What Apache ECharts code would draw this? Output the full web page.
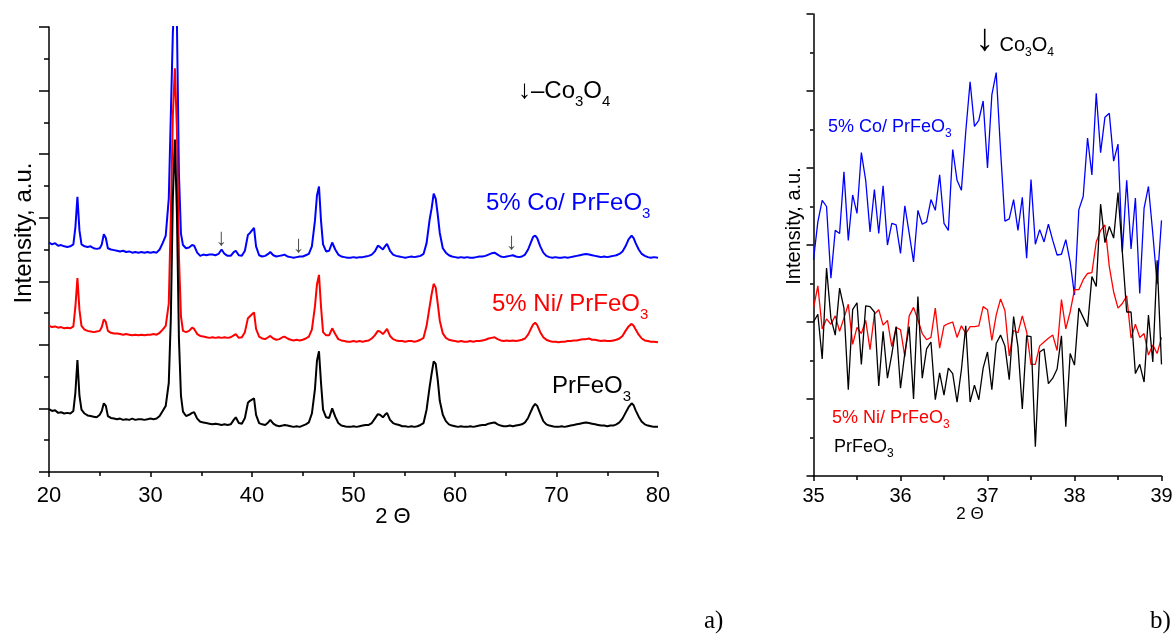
<!DOCTYPE html>
<html>
<head>
<meta charset="utf-8">
<script src="https://cdn.jsdelivr.net/npm/echarts@6/dist/echarts.min.js"></script>
<style>
  html, body { margin: 0; padding: 0; background: #fff; }
  #chart { width: 1174px; height: 634px; }
</style>
</head>
<body>
<div id="chart"></div>
<script>
// panel a) : full XRD patterns, 2 theta 20..80
const twoThetaA = [
  20.0, 20.3, 20.6, 20.9, 21.2, 21.5, 21.8, 22.1, 22.4, 22.6,
  22.8, 23.0, 23.2, 23.5, 23.8, 24.1, 24.4, 24.7, 25.0, 25.2,
  25.4, 25.6, 25.8, 26.1, 26.4, 26.7, 27.0, 27.3, 27.6, 27.9,
  28.2, 28.5, 28.8, 29.1, 29.4, 29.7, 30.0, 30.3, 30.6, 30.9,
  31.2, 31.5, 31.8, 32.0, 32.2, 32.4, 32.6, 32.8, 33.0, 33.2,
  33.5, 33.8, 34.1, 34.3, 34.6, 34.9, 35.2, 35.5, 35.8, 36.1,
  36.4, 36.7, 37.0, 37.3, 37.6, 37.9, 38.2, 38.4, 38.7, 39.0,
  39.3, 39.6, 39.8, 40.0, 40.2, 40.4, 40.7, 41.0, 41.3, 41.6,
  41.8, 42.1, 42.4, 42.7, 43.0, 43.2, 43.5, 43.8, 44.1, 44.4,
  44.7, 45.0, 45.3, 45.6, 45.9, 46.2, 46.4, 46.6, 46.8, 47.0,
  47.3, 47.6, 47.9, 48.2, 48.5, 48.8, 49.1, 49.4, 49.7, 50.0,
  50.3, 50.6, 50.9, 51.2, 51.5, 51.8, 52.1, 52.4, 52.6, 52.9,
  53.1, 53.3, 53.6, 53.9, 54.2, 54.5, 54.8, 55.1, 55.4, 55.7,
  56.0, 56.3, 56.6, 56.9, 57.2, 57.5, 57.7, 57.9, 58.1, 58.3,
  58.5, 58.8, 59.1, 59.4, 59.7, 60.0, 60.3, 60.6, 60.9, 61.2,
  61.5, 61.8, 62.1, 62.4, 62.7, 63.0, 63.3, 63.6, 63.9, 64.2,
  64.5, 64.8, 65.1, 65.4, 65.7, 66.0, 66.3, 66.6, 66.9, 67.2,
  67.5, 67.7, 67.9, 68.1, 68.4, 68.7, 69.0, 69.3, 69.6, 69.9,
  70.2, 70.5, 70.8, 71.1, 71.4, 71.7, 72.0, 72.3, 72.6, 72.9,
  73.2, 73.5, 73.8, 74.1, 74.4, 74.7, 75.0, 75.3, 75.6, 75.9,
  76.2, 76.5, 76.8, 77.1, 77.4, 77.6, 77.8, 78.1, 78.4, 78.7,
  79.0, 79.3, 79.6, 80.0
];
const coA = [
  3.61, 3.58, 3.60, 3.56, 3.57, 3.55, 3.54, 3.55, 3.58, 3.85,
  4.33, 3.80, 3.58, 3.55, 3.54, 3.55, 3.52, 3.51, 3.52, 3.58,
  3.74, 3.68, 3.52, 3.50, 3.49, 3.48, 3.47, 3.48, 3.46, 3.47,
  3.45, 3.46, 3.45, 3.46, 3.45, 3.46, 3.45, 3.46, 3.45, 3.50,
  3.60, 3.72, 4.30, 5.60, 6.90, 7.60, 7.10, 4.70, 3.75, 3.57,
  3.52, 3.53, 3.57, 3.56, 3.45, 3.40, 3.42, 3.41, 3.42, 3.42,
  3.41, 3.43, 3.50, 3.43, 3.40, 3.40, 3.46, 3.48, 3.41, 3.40,
  3.48, 3.73, 3.76, 3.80, 3.84, 3.55, 3.41, 3.39, 3.40, 3.43,
  3.46, 3.41, 3.39, 3.40, 3.41, 3.42, 3.39, 3.38, 3.37, 3.38,
  3.39, 3.39, 3.41, 3.43, 3.55, 3.95, 4.35, 4.49, 3.95, 3.58,
  3.47, 3.48, 3.61, 3.50, 3.42, 3.39, 3.38, 3.37, 3.37, 3.38,
  3.37, 3.38, 3.38, 3.39, 3.40, 3.42, 3.47, 3.56, 3.54, 3.50,
  3.55, 3.59, 3.48, 3.42, 3.40, 3.39, 3.38, 3.37, 3.38, 3.39,
  3.38, 3.39, 3.40, 3.43, 3.60, 3.97, 4.15, 4.38, 4.30, 4.05,
  3.76, 3.52, 3.45, 3.41, 3.39, 3.38, 3.37, 3.38, 3.37, 3.38,
  3.37, 3.37, 3.38, 3.39, 3.39, 3.40, 3.42, 3.44, 3.45, 3.42,
  3.39, 3.38, 3.39, 3.40, 3.41, 3.39, 3.38, 3.39, 3.42, 3.50,
  3.62, 3.70, 3.72, 3.68, 3.55, 3.45, 3.40, 3.38, 3.37, 3.38,
  3.37, 3.37, 3.38, 3.37, 3.38, 3.39, 3.40, 3.41, 3.42, 3.43,
  3.42, 3.41, 3.40, 3.39, 3.38, 3.39, 3.38, 3.39, 3.40, 3.41,
  3.43, 3.47, 3.55, 3.66, 3.72, 3.68, 3.60, 3.50, 3.43, 3.40,
  3.38, 3.37, 3.38, 3.37
];
const niA = [
  2.30, 2.28, 2.29, 2.27, 2.28, 2.26, 2.27, 2.26, 2.29, 2.60,
  3.05, 2.55, 2.30, 2.24, 2.22, 2.21, 2.20, 2.21, 2.22, 2.28,
  2.40, 2.36, 2.22, 2.19, 2.18, 2.18, 2.17, 2.16, 2.17, 2.16,
  2.15, 2.16, 2.15, 2.16, 2.15, 2.16, 2.16, 2.17, 2.16, 2.19,
  2.24, 2.30, 2.65, 4.00, 5.60, 6.35, 5.40, 3.40, 2.45, 2.22,
  2.20, 2.22, 2.27, 2.25, 2.17, 2.14, 2.13, 2.12, 2.11, 2.12,
  2.11, 2.12, 2.11, 2.12, 2.11, 2.12, 2.15, 2.17, 2.11, 2.12,
  2.20, 2.42, 2.45, 2.48, 2.51, 2.25, 2.13, 2.10, 2.09, 2.12,
  2.14, 2.10, 2.08, 2.09, 2.12, 2.13, 2.10, 2.08, 2.07, 2.08,
  2.07, 2.08, 2.10, 2.13, 2.24, 2.60, 2.95, 3.10, 2.60, 2.20,
  2.15, 2.15, 2.26, 2.17, 2.09, 2.07, 2.06, 2.05, 2.05, 2.06,
  2.05, 2.06, 2.05, 2.06, 2.07, 2.10, 2.15, 2.22, 2.21, 2.17,
  2.21, 2.25, 2.14, 2.09, 2.07, 2.06, 2.06, 2.05, 2.06, 2.06,
  2.05, 2.06, 2.08, 2.11, 2.30, 2.60, 2.80, 2.96, 2.90, 2.65,
  2.38, 2.18, 2.11, 2.08, 2.07, 2.06, 2.05, 2.06, 2.05, 2.05,
  2.06, 2.05, 2.06, 2.06, 2.07, 2.08, 2.10, 2.11, 2.12, 2.09,
  2.07, 2.06, 2.07, 2.06, 2.07, 2.06, 2.07, 2.08, 2.10, 2.16,
  2.26, 2.32, 2.35, 2.31, 2.20, 2.12, 2.08, 2.06, 2.05, 2.05,
  2.04, 2.05, 2.05, 2.06, 2.06, 2.07, 2.07, 2.08, 2.09, 2.09,
  2.10, 2.08, 2.08, 2.07, 2.06, 2.07, 2.06, 2.06, 2.07, 2.08,
  2.10, 2.14, 2.22, 2.29, 2.33, 2.30, 2.24, 2.16, 2.10, 2.07,
  2.06, 2.05, 2.05, 2.04
];
const pureA = [
  0.99, 0.96, 0.97, 0.93, 0.94, 0.92, 0.93, 0.92, 0.96, 1.25,
  1.76, 1.20, 0.98, 0.92, 0.89, 0.88, 0.87, 0.86, 0.90, 0.96,
  1.08, 1.04, 0.88, 0.85, 0.84, 0.83, 0.84, 0.82, 0.83, 0.82,
  0.84, 0.82, 0.83, 0.83, 0.82, 0.83, 0.84, 0.83, 0.84, 0.88,
  0.96, 1.04, 1.40, 2.40, 4.30, 5.23, 4.10, 2.10, 1.20, 0.95,
  0.88, 0.90, 0.93, 0.94, 0.84, 0.79, 0.78, 0.77, 0.76, 0.75,
  0.76, 0.75, 0.74, 0.75, 0.74, 0.75, 0.82, 0.86, 0.77, 0.76,
  0.85, 1.09, 1.12, 1.14, 1.16, 0.90, 0.77, 0.75, 0.74, 0.78,
  0.82, 0.76, 0.73, 0.72, 0.73, 0.74, 0.73, 0.72, 0.71, 0.72,
  0.71, 0.73, 0.75, 0.78, 0.92, 1.30, 1.75, 1.90, 1.40, 0.98,
  0.86, 0.85, 1.00, 0.87, 0.77, 0.73, 0.72, 0.71, 0.71, 0.72,
  0.71, 0.72, 0.73, 0.74, 0.74, 0.77, 0.84, 0.91, 0.90, 0.86,
  0.90, 0.93, 0.82, 0.77, 0.75, 0.74, 0.72, 0.72, 0.71, 0.72,
  0.71, 0.72, 0.74, 0.77, 0.98, 1.34, 1.55, 1.74, 1.70, 1.45,
  1.12, 0.90, 0.80, 0.75, 0.73, 0.72, 0.71, 0.72, 0.71, 0.71,
  0.72, 0.71, 0.72, 0.73, 0.74, 0.74, 0.76, 0.77, 0.78, 0.75,
  0.73, 0.72, 0.72, 0.73, 0.72, 0.73, 0.74, 0.75, 0.78, 0.85,
  0.96, 1.03, 1.07, 1.04, 0.92, 0.80, 0.75, 0.73, 0.72, 0.71,
  0.71, 0.72, 0.71, 0.72, 0.73, 0.74, 0.75, 0.76, 0.77, 0.78,
  0.77, 0.76, 0.75, 0.74, 0.73, 0.73, 0.72, 0.73, 0.73, 0.75,
  0.78, 0.84, 0.93, 1.02, 1.08, 1.05, 0.97, 0.87, 0.79, 0.75,
  0.73, 0.72, 0.71, 0.71
];
// Co3O4 arrows above the Co trace: [2theta, height]
const arrowsA = [[37.0, 3.67], [44.6, 3.57], [65.6, 3.61]];

// panel b) : zoom 35..39
const twoThetaB = [
  35.00, 35.05, 35.10, 35.15, 35.20, 35.25, 35.30, 35.35, 35.40, 35.45,
  35.50, 35.55, 35.60, 35.65, 35.70, 35.75, 35.80, 35.85, 35.90, 35.95,
  36.00, 36.05, 36.10, 36.15, 36.20, 36.25, 36.30, 36.35, 36.40, 36.45,
  36.50, 36.55, 36.60, 36.65, 36.70, 36.75, 36.80, 36.85, 36.90, 36.95,
  37.00, 37.05, 37.10, 37.15, 37.20, 37.25, 37.30, 37.35, 37.40, 37.45,
  37.50, 37.55, 37.60, 37.65, 37.70, 37.75, 37.80, 37.85, 37.90, 37.95,
  38.00, 38.05, 38.10, 38.15, 38.20, 38.25, 38.30, 38.35, 38.40, 38.45,
  38.50, 38.55, 38.60, 38.65, 38.70, 38.75, 38.80, 38.85, 38.90, 38.95,
  39.00
];
const coB = [
  2.81, 3.30, 3.58, 3.50, 2.57, 3.19, 3.15, 3.95, 3.06, 3.65,
  3.41, 4.20, 3.84, 3.17, 3.72, 3.15, 3.77, 3.00, 3.28, 3.26,
  2.89, 3.51, 3.15, 2.78, 3.45, 3.27, 3.30, 3.59, 3.45, 3.91,
  3.28, 3.19, 4.24, 3.84, 3.71, 4.47, 5.12, 4.54, 4.62, 4.87,
  4.00, 4.95, 5.24, 4.23, 3.31, 3.34, 3.59, 3.19, 3.62, 2.83,
  3.85, 3.01, 3.20, 3.04, 3.27, 3.06, 2.87, 2.88, 3.07, 2.78,
  2.35, 3.46, 3.63, 4.39, 3.91, 4.97, 4.20, 4.66, 4.71, 4.09,
  4.31, 2.91, 3.84, 2.95, 3.61, 2.37, 3.48, 3.76, 3.15, 2.49,
  3.32
];
const niB = [
  2.18, 2.47, 1.91, 2.04, 1.97, 2.08, 1.88, 2.05, 2.23, 1.71,
  1.93, 1.85, 2.02, 1.64, 2.10, 2.16, 1.96, 2.02, 1.68, 1.93,
  1.90, 1.55, 2.08, 2.19, 2.03, 1.85, 1.77, 1.80, 2.18, 1.66,
  1.95, 1.98, 2.00, 1.80, 1.95, 1.85, 1.94, 1.94, 1.95, 2.20,
  2.16, 1.76, 2.09, 2.30, 2.15, 1.56, 1.89, 1.86, 2.08, 1.87,
  1.45, 1.45, 1.69, 1.74, 1.79, 1.83, 1.63, 2.29, 1.91, 2.13,
  2.42, 2.42, 2.55, 2.63, 2.64, 3.04, 3.19, 3.26, 2.72, 2.39,
  2.18, 2.24, 2.34, 1.79, 1.97, 1.80, 1.85, 1.57, 1.70, 1.59,
  1.80
];
const pureB = [
  2.00, 2.10, 1.52, 2.70, 2.05, 1.83, 2.44, 2.18, 1.12, 2.16,
  2.25, 1.45, 2.21, 2.20, 2.13, 1.17, 1.88, 1.27, 1.58, 1.94,
  1.14, 1.60, 1.94, 1.00, 2.33, 1.27, 1.65, 1.74, 0.99, 1.34,
  1.05, 1.40, 1.33, 0.96, 1.38, 1.95, 0.96, 1.18, 0.99, 1.40,
  1.61, 1.12, 1.72, 1.83, 1.69, 1.25, 2.07, 1.68, 0.87, 1.82,
  1.81, 0.38, 1.61, 1.65, 1.20, 1.27, 1.39, 1.82, 0.64, 1.59,
  1.44, 2.18, 2.06, 1.94, 2.59, 2.46, 3.53, 3.03, 3.24, 3.09,
  3.68, 2.91, 2.13, 2.13, 1.33, 1.45, 1.22, 2.09, 1.48, 2.80,
  1.45
];

const FONT = '"Liberation Sans", Arial, sans-serif';
const SERIF = '"Liberation Serif", "Times New Roman", serif';

function pairs(xs, ys) {
  return xs.map(function (x, i) { return [x, ys[i]]; });
}

function xAxisOf(grid, min, max, interval, fontSize, margin) {
  return {
    type: 'value', gridIndex: grid, min: min, max: max, interval: interval,
    axisLine: { show: true, onZero: false, lineStyle: { color: '#000', width: 1.5 } },
    axisTick: { show: true, inside: false, length: 5, lineStyle: { color: '#000', width: 1.5 } },
    minorTick: { show: true, splitNumber: 2, length: 4, lineStyle: { color: '#000', width: 1.5 } },
    splitLine: { show: false },
    axisLabel: { show: true, color: '#000', fontSize: fontSize, fontFamily: FONT, margin: margin }
  };
}

function yAxisOf(grid, max, tickLen) {
  return {
    type: 'value', gridIndex: grid, min: 0, max: max, interval: 1,
    axisLine: { show: true, onZero: false, lineStyle: { color: '#000', width: 1.5 } },
    axisTick: { show: true, inside: false, length: tickLen, lineStyle: { color: '#000', width: 1.5 } },
    minorTick: { show: true, splitNumber: 2, length: tickLen / 2, lineStyle: { color: '#000', width: 1.5 } },
    splitLine: { show: false },
    axisLabel: { show: false }
  };
}

function line(xi, xs, ys, color, width) {
  return {
    type: 'line', xAxisIndex: xi, yAxisIndex: xi,
    data: pairs(xs, ys), symbol: 'none', showSymbol: false, clip: true,
    lineStyle: { color: color, width: width }, itemStyle: { color: color },
    animation: false
  };
}

// label with a chemical subscript
function formula(x, y, parts, size, subSize, pad, color, arrowSize, arrowLift) {
  return {
    type: 'text', x: x, y: y,
    style: {
      text: parts, fill: color, verticalAlign: 'middle', align: 'left',
      fontFamily: FONT, fontSize: size,
      rich: {
        m: { fontSize: size, fontFamily: FONT, fill: color },
        a: { fontSize: arrowSize || size, fontFamily: FONT, fill: color, padding: [0, 0, arrowLift || 0, 0] },
        s: { fontSize: subSize, fontFamily: FONT, fill: color, padding: [pad, 0, 0, 0] }
      }
    }
  };
}

function plain(x, y, text, size, opts) {
  return Object.assign({
    type: 'text', x: x, y: y,
    style: { text: text, fill: '#000', fontFamily: FONT, fontSize: size, align: 'center', verticalAlign: 'middle' }
  }, opts || {});
}

const chart = echarts.init(document.getElementById('chart'), null, { renderer: 'canvas' });

const option = {
  backgroundColor: '#fff',
  animation: false,
  grid: [
    { left: 49, top: 27, width: 609, height: 445, containLabel: false, outerBoundsMode: 'none' },
    { left: 813.5, top: 14, width: 348, height: 462, containLabel: false, outerBoundsMode: 'none' }
  ],
  xAxis: [
    xAxisOf(0, 20, 80, 10, 22, 13),
    xAxisOf(1, 35, 39, 1, 20, 10)
  ],
  yAxis: [
    yAxisOf(0, 7, 10),
    yAxisOf(1, 6, 7)
  ],
  series: [
    line(0, twoThetaA, coA, '#0000ff', 2),
    line(0, twoThetaA, niA, '#ff0000', 2),
    line(0, twoThetaA, pureA, '#000000', 2),
    {
      type: 'scatter', xAxisIndex: 0, yAxisIndex: 0, data: arrowsA,
      symbolSize: 1, itemStyle: { color: 'rgba(0,0,0,0)' }, animation: false,
      label: { show: true, position: 'inside', formatter: '↓', color: '#222', fontSize: 24, fontFamily: FONT }
    },
    line(1, twoThetaB, coB, '#0000ff', 1.3),
    line(1, twoThetaB, niB, '#ff0000', 1.3),
    line(1, twoThetaB, pureB, '#000000', 1.3)
  ],
  graphic: [
    // panel a)
    formula(518, 91, '{a|↓}{m|–Co}{s|3}{m|O}{s|4}', 24, 15, 22, '#000', 26, 0),
    formula(486, 203, '{m|5% Co/ PrFeO}{s|3}', 24, 15, 22, '#0000ff'),
    formula(492, 304, '{m|5% Ni/ PrFeO}{s|3}', 24, 15, 22, '#ff0000'),
    formula(552, 386, '{m|PrFeO}{s|3}', 24, 15, 22, '#000'),
    plain(24, 233, 'Intensity, a.u.', 24, { rotation: Math.PI / 2 }),
    plain(393, 517, '2 Θ', 22),
    // panel b)
    formula(975, 45, '{a|↓}{m| Co}{s|3}{m|O}{s|4}', 20, 12, 15, '#000', 38, 10),
    formula(828, 127, '{m|5% Co/ PrFeO}{s|3}', 18, 12, 14, '#0000ff'),
    formula(832, 418, '{m|5% Ni/ PrFeO}{s|3}', 18, 12, 14, '#ff0000'),
    formula(834, 447, '{m|PrFeO}{s|3}', 18, 12, 14, '#000'),
    plain(794, 226, 'Intensity, a.u.', 20, { rotation: Math.PI / 2 }),
    plain(970, 514, '2 Θ', 17),
    // panel captions
    { type: 'text', x: 704, y: 621, style: { text: 'a)', fill: '#000', fontFamily: SERIF, fontSize: 25, verticalAlign: 'middle' } },
    { type: 'text', x: 1150, y: 621, style: { text: 'b)', fill: '#000', fontFamily: SERIF, fontSize: 25, verticalAlign: 'middle' } }
  ]
};

chart.setOption(option);
</script>
</body>
</html>
